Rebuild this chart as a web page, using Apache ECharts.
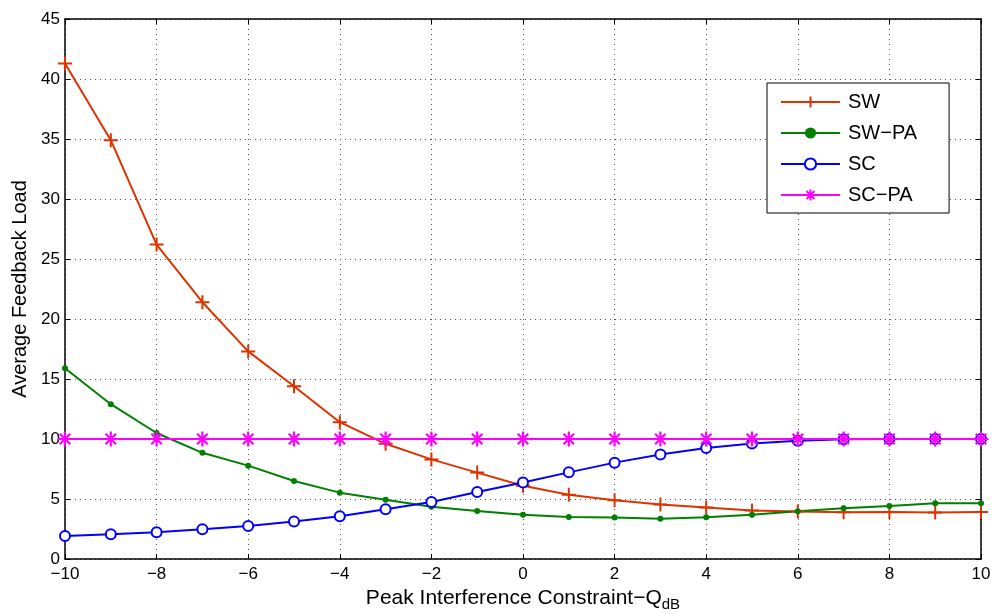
<!DOCTYPE html>
<html><head><meta charset="utf-8">
<script src="https://cdn.jsdelivr.net/npm/echarts@6/dist/echarts.min.js"></script>
<style>html,body{margin:0;padding:0;background:#fff}#c{width:995px;height:614px}</style>
</head><body><div id="c"></div>
<script>
var xValues = [-10,-9,-8,-7,-6,-5,-4,-3,-2,-1,0,1,2,3,4,5,6,7,8,9,10];
var swValues   = [41.3,34.9,26.2,21.4,17.3,14.4,11.4,9.6,8.3,7.2,6.1,5.35,4.9,4.55,4.3,4.05,3.95,3.9,3.92,3.88,3.92];
var swpaValues = [15.9,12.9,10.5,8.85,7.78,6.5,5.53,4.94,4.36,4.0,3.69,3.5,3.45,3.35,3.47,3.69,3.97,4.22,4.42,4.64,4.64];
var scValues   = [1.92,2.06,2.22,2.47,2.75,3.12,3.56,4.14,4.75,5.58,6.37,7.22,8.03,8.7,9.25,9.62,9.86,9.98,10.0,10.0,10.0];
var scpaValues = [10,10,10,10,10,10,10,10,10,10,10,10,10,10,10,10,10,10,10,10,10];
var seriesNames = ['SW','SW\u2212PA','SC','SC\u2212PA'];

function pairs(v){ return xValues.map(function(x,i){ return [x, v[i]]; }); }
var plusPath = 'path://M1,0 L1,2 M0,1 L2,1';
var starPath = 'path://M1,0 L1,2 M0,1 L2,1 M0.3,0.3 L1.7,1.7 M0.3,1.7 L1.7,0.3';
var font = 'Liberation Sans, Arial, Helvetica, sans-serif';
var chart = echarts.init(document.getElementById('c'));
function fmt(v){ return String(v).replace('-', '\u2212'); }
chart.setOption({
  animation: false,
  backgroundColor: '#fff',
  textStyle: {fontFamily: font},
  grid: {left: 65, right: 14, top: 19, bottom: 55, show: false, containLabel: false, outerBoundsMode: 'none'},
  legend: {
    orient: 'vertical', left: 767, top: 83,
    backgroundColor: '#fff', borderColor: '#000', borderWidth: 1,
    padding: [9, 32, 8, 13], itemGap: 11, itemWidth: 59, itemHeight: 14,
    textStyle: {fontSize: 20, color: '#000', fontFamily: font, padding: [0, 0, 0, 3]},
    data: seriesNames
  },
  xAxis: [{
    type: 'value', min: -10, max: 10, interval: 2,
    axisLine: {show: true, onZero: false, lineStyle: {color: '#000', width: 1.5}},
    axisTick: {inside: true, length: 5, lineStyle: {color: '#000'}},
    axisLabel: {color: '#000', fontSize: 17, margin: 7, formatter: fmt},
    splitLine: {show: true, lineStyle: {color: '#555', type: [1, 4], width: 1}},
    name: '{a|Peak Interference Constraint\u2212Q}{b|dB}',
    nameLocation: 'middle', nameGap: 6,
    nameTextStyle: {rich: {
      a: {fontSize: 21, color: '#000', fontFamily: font},
      b: {fontSize: 15, color: '#000', fontFamily: font, padding: [12, 0, 0, 0]}
    }}
  }, {
    type: 'value', min: -10, max: 10, interval: 2, position: 'top',
    axisLine: {show: true, onZero: false, lineStyle: {color: '#000', width: 1.5}},
    axisTick: {inside: true, length: 5, lineStyle: {color: '#000'}},
    axisLabel: {show: false}, splitLine: {show: false}
  }],
  yAxis: [{
    type: 'value', min: 0, max: 45, interval: 5,
    axisLine: {show: true, onZero: false, lineStyle: {color: '#000', width: 1.5}},
    axisTick: {inside: true, length: 5, lineStyle: {color: '#000'}},
    axisLabel: {color: '#000', fontSize: 17, margin: 5},
    splitLine: {show: true, lineStyle: {color: '#555', type: [1, 4], width: 1}},
    name: 'Average Feedback Load', nameLocation: 'middle', nameGap: 35,
    nameTextStyle: {fontSize: 20, color: '#000'}
  }, {
    type: 'value', min: 0, max: 45, interval: 5, position: 'right',
    axisLine: {show: true, onZero: false, lineStyle: {color: '#000', width: 1.5}},
    axisTick: {inside: true, length: 5, lineStyle: {color: '#000'}},
    axisLabel: {show: false}, splitLine: {show: false}
  }],
  series: [
    {name: seriesNames[0], type: 'line', data: pairs(swValues), symbol: plusPath, symbolSize: 14,
     itemStyle: {color: '#dd3300', borderColor: '#dd3300', borderWidth: 2},
     lineStyle: {color: '#dd3300', width: 2}},
    {name: seriesNames[1], type: 'line', data: pairs(swpaValues), symbol: 'circle', symbolSize: 6,
     itemStyle: {color: '#008000'}, lineStyle: {color: '#008000', width: 2}},
    {name: seriesNames[2], type: 'line', data: pairs(scValues), symbol: 'emptyCircle', symbolSize: 10,
     itemStyle: {color: '#0000ff', borderWidth: 2}, lineStyle: {color: '#0000ff', width: 2}},
    {name: seriesNames[3], type: 'line', data: pairs(scpaValues), symbol: starPath, symbolSize: 15,
     itemStyle: {color: '#ff00ff', borderColor: '#ff00ff', borderWidth: 2.2},
     lineStyle: {color: '#ff00ff', width: 2}}
  ]
});
</script></body></html>
